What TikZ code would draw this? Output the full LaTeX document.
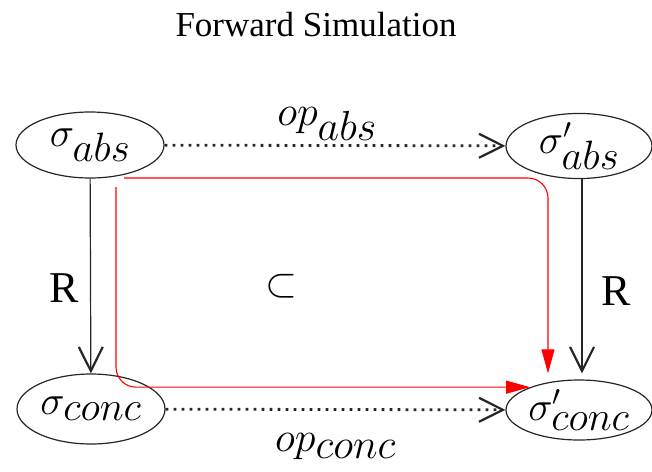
\RequirePackage{fix-cm}
\documentclass[tikz,border=0pt]{standalone}
\usepackage{fontspec}
\setmainfont{Liberation Serif}
\usetikzlibrary{shapes.geometric, arrows.meta}

\begin{document}
\begin{tikzpicture}[
  x=1pt, y=-1pt, font=\fontsize{41}{44}\selectfont,
  state/.style={ellipse, draw=black!85, line width=1.2pt, minimum width=148pt, minimum height=66pt, inner sep=0pt},
  relarr/.style={draw=black!85, line width=1.2pt, -{Straight Barb[length=24pt, width=24pt, line width=2.2pt]}},
  oparr/.style={relarr, line width=2.8pt, dash pattern=on 2.8pt off 5.2pt},
  simarr/.style={draw=red, line width=1.1pt, rounded corners=20pt, -{Triangle[length=24pt, width=13pt]}},
  rlbl/.style={font=\fontsize{44}{48}\selectfont},
  oplbl/.style={inner sep=2pt, font=\fontsize{42}{44}\selectfont}]
\useasboundingbox (0,0) rectangle (652,471);
\node[font=\fontsize{35}{40}\selectfont] (title) at (316,25) {Forward Simulation};
\node[state] (sabs) at (90,145) {$\sigma_{\textstyle abs}$};
\node[state, minimum width=146pt, minimum height=64pt] (sabsp) at (579,146) {$\sigma'_{\textstyle abs}$};
\node[state, minimum height=70pt] (sconc) at (91,409) {$\sigma_{\textstyle conc}$};
\node[state, minimum width=146pt, minimum height=60pt] (sconcp) at (579,410) {$\sigma'_{\textstyle conc}$};
\node (incl) at (281,286) {$\subset$};
\coordinate (rtop) at (124,178);
\coordinate (rleft) at (116,187);
\draw[oparr] (sabs) -- node[oplbl, above, xshift=-8pt, yshift=2pt] {$op_{\textstyle abs}$} (sabsp);
\draw[oparr] (sconc) -- node[oplbl, below, yshift=-21pt] {$op_{\textstyle conc}$} (sconcp);
\draw[relarr] (sabs) -- node[rlbl, left=8pt, pos=0.56] {R} (sconc);
\draw[relarr, shorten >=6pt] (sabsp.south -| 582,0) -- node[rlbl, right=16pt, pos=0.56] {R} (sconcp.north -| 582,0);
\draw[simarr] (rtop) -| ([shift={(-31pt,6pt)}]sconcp.north);
\draw[simarr] (rleft) |- (sconcp.155);
\end{tikzpicture}
\end{document}
